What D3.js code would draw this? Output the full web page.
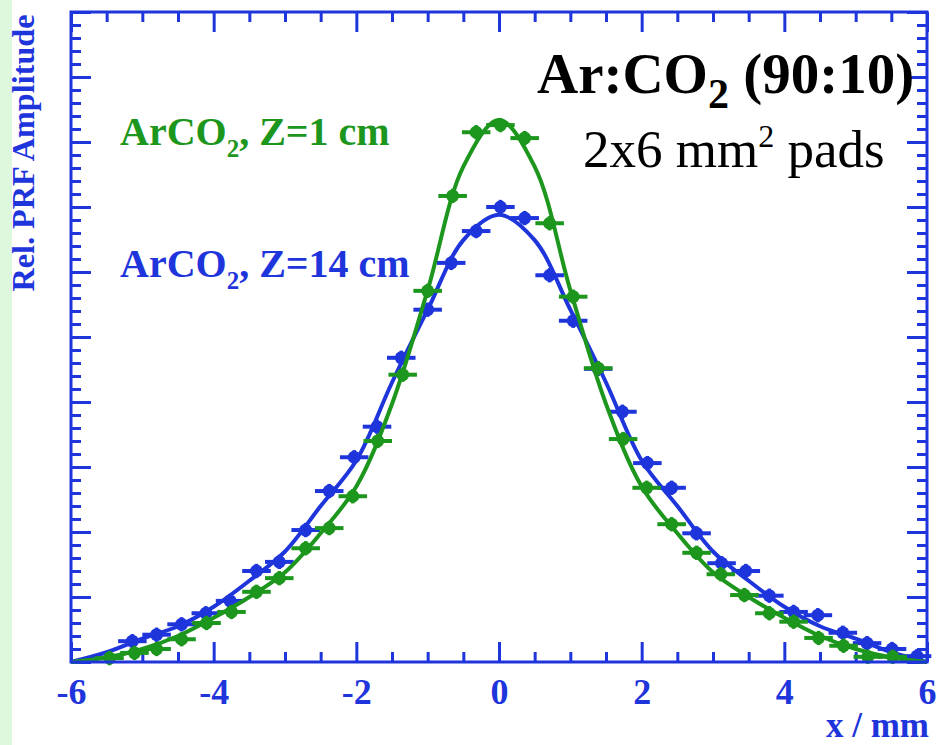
<!DOCTYPE html>
<html>
<head>
<meta charset="utf-8">
<script src="https://cdn.jsdelivr.net/npm/d3@7/dist/d3.min.js"></script>
<style>
  body { margin: 0; background: #fff; }
  svg { display: block; }
  text { font-family: "Liberation Serif", "Times New Roman", serif; }
</style>
</head>
<body>
<script>
// measured points, x in mm, amplitude in units of one major y tick
var greenX = [-5.46, -5.11, -4.80, -4.45, -4.10, -3.75, -3.40, -3.08, -2.71, -2.38, -2.05,
  -1.70, -1.35, -1.00, -0.65, -0.32, 0.02, 0.36, 0.71, 1.04, 1.39, 1.74, 2.07, 2.42, 2.77,
  3.11, 3.44, 3.79, 4.13, 4.48, 4.83, 5.17, 5.52];
var greenY = [0.06, 0.14, 0.20, 0.35, 0.60, 0.77, 1.08, 1.29, 1.75, 2.06, 2.55,
  3.40, 4.42, 5.71, 7.17, 8.15, 8.26, 8.06, 6.75, 5.62, 4.52, 3.43, 2.68, 2.12, 1.68,
  1.35, 1.03, 0.75, 0.62, 0.37, 0.25, 0.08, 0.08];

var blueX = [-5.14, -4.80, -4.45, -4.11, -3.77, -3.40, -3.08, -2.71, -2.38, -2.03, -1.71,
  -1.37, -1.00, -0.67, -0.32, 0.02, 0.36, 0.71, 1.04, 1.39, 1.73, 2.08, 2.42, 2.77, 3.12,
  3.46, 3.79, 4.13, 4.47, 4.82, 5.16, 5.51, 5.86];
var blueY = [0.32, 0.42, 0.58, 0.75, 0.94, 1.40, 1.54, 2.03, 2.63, 3.15, 3.62,
  4.68, 5.42, 6.14, 6.63, 7.00, 6.83, 5.95, 5.25, 4.51, 3.85, 3.06, 2.68, 1.98, 1.52,
  1.40, 1.02, 0.77, 0.72, 0.45, 0.29, 0.20, 0.09];

// fitted curves, read every 0.5 mm
var fitX = [-6, -5.5, -5, -4.5, -4, -3.5, -3, -2.5, -2, -1.5, -1, -0.5, 0,
  0.5, 1, 1.5, 2, 2.5, 3, 3.5, 4, 4.5, 5, 5.5, 6];
var greenFit = [0, 0.07, 0.20, 0.40, 0.68, 1.00, 1.38, 1.98, 2.70, 3.97, 5.72, 7.62, 8.34,
  7.62, 5.72, 3.97, 2.70, 1.98, 1.38, 1.00, 0.68, 0.40, 0.20, 0.07, 0];
var blueFit = [0, 0.15, 0.36, 0.55, 0.85, 1.25, 1.70, 2.40, 3.10, 4.30, 5.42, 6.49, 6.88,
  6.49, 5.42, 4.30, 3.10, 2.40, 1.70, 1.25, 0.85, 0.55, 0.36, 0.15, 0];

var xErr = 0.2;    // horizontal error half width, mm
var yErr = 0.11;

var xTicks = [-6, -4, -2, 0, 2, 4, 6];

var blue = '#1f35dc';
var green = '#1c961c';

var W = 937, H = 745;
var plotL = 71, plotR = 927, plotT = 12, plotB = 662;

var svg = d3.select('body').append('svg')
    .attr('width', W)
    .attr('height', H);

svg.append('rect').attr('width', W).attr('height', H).attr('fill', '#fff');
svg.append('rect').attr('width', 12).attr('height', H).attr('fill', '#ddf8dd');

var x = d3.scaleLinear().domain([-6, 6]).range([plotL, plotR]);
var y = d3.scaleLinear().domain([0, 10]).range([plotB, plotT]);

var xMinor = d3.range(-6, 6.01, 0.5).filter(function(v) { return v % 2 !== 0; });
var yMinor = d3.range(0, 10.01, 0.2).filter(function(v) { return Math.abs(v - Math.round(v)) > 0.01; });
var yMajor = d3.range(0, 11, 1);

function styleAxis(g) {
  g.select('.domain').remove();
  g.selectAll('line').attr('stroke', blue).attr('stroke-width', 3);
}

// major + minor ticks on all four sides, pointing inward
svg.append('g').attr('transform', 'translate(0,' + plotB + ')')
    .call(d3.axisBottom(x).tickValues(xTicks).tickSize(-20).tickPadding(16)
      .tickFormat(function(d) { return String(d); }))
    .call(styleAxis)
    .selectAll('text')
    .attr('fill', blue)
    .attr('font-size', 36)
    .attr('font-weight', 'bold')
    .attr('font-family', '"Liberation Serif", serif');

svg.append('g').attr('transform', 'translate(0,' + plotB + ')')
    .call(d3.axisBottom(x).tickValues(xMinor).tickSize(-10).tickFormat(''))
    .call(styleAxis);

svg.append('g').attr('transform', 'translate(0,' + plotT + ')')
    .call(d3.axisTop(x).tickValues(xTicks).tickSize(-20).tickFormat(''))
    .call(styleAxis);
svg.append('g').attr('transform', 'translate(0,' + plotT + ')')
    .call(d3.axisTop(x).tickValues(xMinor).tickSize(-10).tickFormat(''))
    .call(styleAxis);

svg.append('g').attr('transform', 'translate(' + plotL + ',0)')
    .call(d3.axisLeft(y).tickValues(yMajor).tickSize(-20).tickFormat(''))
    .call(styleAxis);
svg.append('g').attr('transform', 'translate(' + plotL + ',0)')
    .call(d3.axisLeft(y).tickValues(yMinor).tickSize(-10).tickFormat(''))
    .call(styleAxis);
svg.append('g').attr('transform', 'translate(' + plotR + ',0)')
    .call(d3.axisRight(y).tickValues(yMajor).tickSize(-20).tickFormat(''))
    .call(styleAxis);
svg.append('g').attr('transform', 'translate(' + plotR + ',0)')
    .call(d3.axisRight(y).tickValues(yMinor).tickSize(-10).tickFormat(''))
    .call(styleAxis);

var line = d3.line()
    .x(function(d) { return x(d[0]); })
    .y(function(d) { return y(d[1]); })
    .curve(d3.curveCatmullRom.alpha(0.5));

function drawSeries(xs, ys, fit, color) {
  svg.append('path')
      .datum(d3.zip(fitX, fit))
      .attr('d', line)
      .attr('fill', 'none')
      .attr('stroke', color)
      .attr('stroke-width', 4);

  var pts = svg.append('g').selectAll('g')
      .data(d3.zip(xs, ys))
      .enter().append('g');
  pts.append('line')
      .attr('x1', function(d) { return x(d[0] - xErr); })
      .attr('x2', function(d) { return x(d[0] + xErr); })
      .attr('y1', function(d) { return y(d[1]); })
      .attr('y2', function(d) { return y(d[1]); })
      .attr('stroke', color).attr('stroke-width', 4);
  pts.append('line')
      .attr('x1', function(d) { return x(d[0]); })
      .attr('x2', function(d) { return x(d[0]); })
      .attr('y1', function(d) { return y(d[1] - yErr); })
      .attr('y2', function(d) { return y(d[1] + yErr); })
      .attr('stroke', color).attr('stroke-width', 3.5);
  pts.append('circle')
      .attr('cx', function(d) { return x(d[0]); })
      .attr('cy', function(d) { return y(d[1]); })
      .attr('r', 6.5)
      .attr('fill', color);
}

drawSeries(blueX, blueY, blueFit, blue);
drawSeries(greenX, greenY, greenFit, green);

// frame
svg.append('rect')
    .attr('x', plotL).attr('y', plotT)
    .attr('width', plotR - plotL).attr('height', plotB - plotT)
    .attr('fill', 'none')
    .attr('stroke', blue)
    .attr('stroke-width', 3);

// axis titles
svg.append('text')
    .attr('transform', 'translate(34,153) rotate(-90)')
    .attr('text-anchor', 'middle')
    .attr('font-size', 31)
    .attr('font-weight', 'bold')
    .attr('textLength', 277)
    .attr('lengthAdjust', 'spacingAndGlyphs')
    .attr('fill', blue)
    .text('Rel. PRF Amplitude');

svg.append('text')
    .attr('x', 929).attr('y', 737)
    .attr('text-anchor', 'end')
    .attr('font-size', 35)
    .attr('font-weight', 'bold')
    .attr('fill', blue)
    .text('x / mm');

// legend labels
function legendLabel(yPos, color, rest) {
  var t = svg.append('text')
      .attr('x', 120).attr('y', yPos)
      .attr('font-size', 40)
      .attr('font-weight', 'bold')
      .attr('fill', color);
  t.append('tspan').text('ArCO');
  t.append('tspan').attr('font-size', 25).attr('dy', 12).text('2');
  t.append('tspan').attr('dy', -12).text(', ' + rest);
}
legendLabel(145, green, 'Z=1 cm');
legendLabel(277, blue, 'Z=14 cm');

// gas / pad annotation
var t1 = svg.append('text')
    .attr('x', 537).attr('y', 93)
    .attr('font-size', 57)
    .attr('font-weight', 'bold')
    .attr('fill', '#000');
t1.append('tspan').text('Ar:CO');
t1.append('tspan').attr('font-size', 42).attr('dy', 15).text('2');
t1.append('tspan').attr('dy', -15).text(' (90:10)');

var t2 = svg.append('text')
    .attr('x', 583).attr('y', 167)
    .attr('font-size', 53)
    .attr('fill', '#000');
t2.append('tspan').text('2x6 mm');
t2.append('tspan').attr('font-size', 32).attr('dy', -20).text('2');
t2.append('tspan').attr('dy', 20).text(' pads');
</script>
</body>
</html>
